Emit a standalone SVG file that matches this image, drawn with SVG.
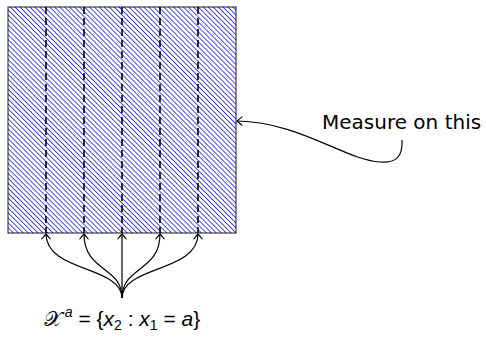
<svg xmlns="http://www.w3.org/2000/svg" width="486" height="342" viewBox="0 0 486 342">
<defs>
<pattern id="hatch" patternUnits="userSpaceOnUse" width="3.5" height="3.5" patternTransform="rotate(-45)">
<line x1="1.75" y1="-1" x2="1.75" y2="4.5" stroke="#0000ff" stroke-width="0.8" shape-rendering="crispEdges"/>
</pattern>
<marker id="to" viewBox="-6 -6 7 12" markerWidth="7" markerHeight="12" refX="0" refY="0" orient="auto-start-reverse" markerUnits="userSpaceOnUse">
<path d="M-5,-4.2 Q-1.4,-1.4 0,0 Q-1.4,1.4 -5,4.2" fill="none" stroke="#000" stroke-width="1.1" stroke-linecap="round"/>
</marker>
<style>
.dash{stroke:#000;stroke-width:1.6;stroke-dasharray:7 4}
.conn{fill:none;stroke:#000;stroke-width:1.2}
.lbl{font-family:"DejaVu Sans","Liberation Sans",sans-serif;fill:#000}
.math{font-family:"Liberation Sans","DejaVu Sans",sans-serif;fill:#000}
</style>
</defs>
<g id="region">
<rect x="8" y="7" width="228" height="226" fill="#fff"/>
<rect x="8" y="7" width="228" height="226" fill="url(#hatch)" stroke="#000" stroke-width="0.9"/>
<line class="dash" x1="46" y1="7" x2="46" y2="233"/>
<line class="dash" x1="84" y1="7" x2="84" y2="233"/>
<line class="dash" x1="122" y1="7" x2="122" y2="233"/>
<line class="dash" x1="160" y1="7" x2="160" y2="233"/>
<line class="dash" x1="198" y1="7" x2="198" y2="233"/>
</g>
<g id="connectors">
<path class="conn" d="M122,298 C122,266 46,272 46,234" marker-end="url(#to)"/>
<path class="conn" d="M122,298 C122,266 84,272 84,234" marker-end="url(#to)"/>
<path class="conn" d="M122,298 L122,234" marker-end="url(#to)"/>
<path class="conn" d="M122,298 C122,266 160,272 160,234" marker-end="url(#to)"/>
<path class="conn" d="M122,298 C122,266 198,272 198,234" marker-end="url(#to)"/>
<path class="conn" d="M402,140 C403,158 395,163 380,162 C345,160 300,122 237,121" marker-end="url(#to)"/>
</g>
<g id="label-measure">
<text class="lbl" x="322" y="129" font-size="20">Measure on this</text>
</g>
<g id="label-set">
<text class="math" x="122" y="326" font-size="21" text-anchor="middle"><tspan font-family="DejaVu Sans, DejaVu Serif, serif">𝒳</tspan><tspan font-style="italic" font-size="14" dx="3" dy="-9">a</tspan><tspan dy="9"> = {</tspan><tspan font-style="italic">x</tspan><tspan font-size="14" dy="4">2</tspan><tspan dy="-4"> : </tspan><tspan font-style="italic">x</tspan><tspan font-size="14" dy="4">1</tspan><tspan dy="-4"> = </tspan><tspan font-style="italic">a</tspan><tspan>}</tspan></text>
</g>
</svg>
